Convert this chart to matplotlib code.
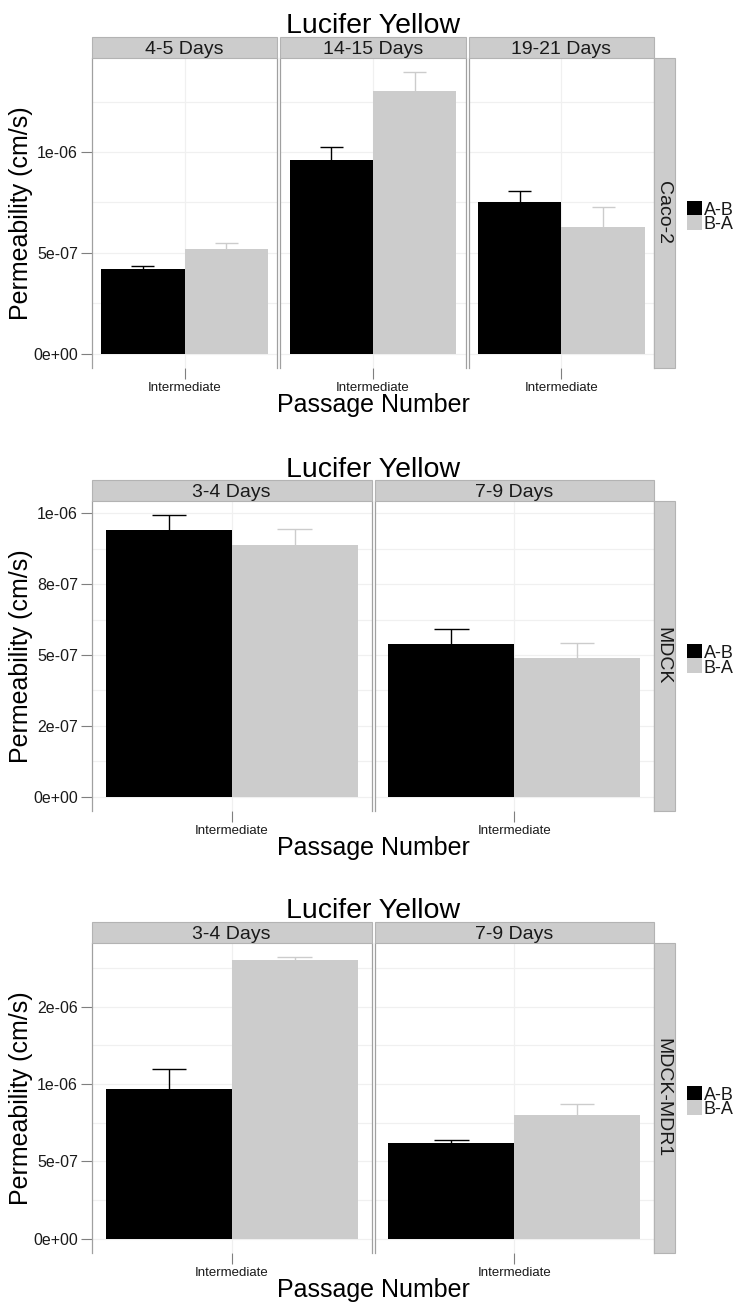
import matplotlib
matplotlib.use("Agg")
import matplotlib.pyplot as plt
from matplotlib.patches import Rectangle

plt.rcParams['font.family'] = ['Liberation Sans', 'DejaVu Sans']

W, H, DPI = 734, 1304, 100

# ---- data -------------------------------------------------------------
title = "Lucifer Yellow"
x_title = "Passage Number"
y_title = "Permeability (cm/s)"
x_category = "Intermediate"
series = ["A-B", "B-A"]
series_colors = ["#000000", "#cccccc"]

caco2_days = ["4-5 Days", "14-15 Days", "19-21 Days"]
caco2_ab = [4.21e-7, 9.60e-7, 7.51e-7]
caco2_ab_err = [0.16e-7, 0.65e-7, 0.57e-7]
caco2_ba = [5.20e-7, 1.304e-6, 6.30e-7]
caco2_ba_err = [0.31e-7, 0.93e-7, 0.96e-7]
caco2_ticks = [0, 5e-7, 1e-6]
caco2_ticklabels = ["0e+00", "5e-07", "1e-06"]

mdck_days = ["3-4 Days", "7-9 Days"]
mdck_ab = [9.41e-7, 5.40e-7]
mdck_ab_err = [0.51e-7, 0.52e-7]
mdck_ba = [8.89e-7, 4.91e-7]
mdck_ba_err = [0.54e-7, 0.53e-7]
mdck_ticks = [0, 2.5e-7, 5e-7, 7.5e-7, 1e-6]
mdck_ticklabels = ["0e+00", "2e-07", "5e-07", "8e-07", "1e-06"]

mdr1_days = ["3-4 Days", "7-9 Days"]
mdr1_ab = [9.70e-7, 6.21e-7]
mdr1_ab_err = [1.29e-7, 0.16e-7]
mdr1_ba = [1.80e-6, 8.02e-7]
mdr1_ba_err = [0.02e-6, 0.69e-7]
mdr1_ticks = [0, 5e-7, 1e-6, 1.5e-6]
mdr1_ticklabels = ["0e+00", "5e-07", "1e-06", "2e-06"]

sections = [
    dict(cell="Caco-2", days=caco2_days, ab=caco2_ab, ab_err=caco2_ab_err,
         ba=caco2_ba, ba_err=caco2_ba_err, ticks=caco2_ticks,
         ticklabels=caco2_ticklabels, strip_top=36.7),
    dict(cell="MDCK", days=mdck_days, ab=mdck_ab, ab_err=mdck_ab_err,
         ba=mdck_ba, ba_err=mdck_ba_err, ticks=mdck_ticks,
         ticklabels=mdck_ticklabels, strip_top=480.0),
    dict(cell="MDCK-MDR1", days=mdr1_days, ab=mdr1_ab, ab_err=mdr1_ab_err,
         ba=mdr1_ba, ba_err=mdr1_ba_err, ticks=mdr1_ticks,
         ticklabels=mdr1_ticklabels, strip_top=921.7),
]

# ---- layout helpers (pixel units, origin top-left) ---------------------
def rect(x0, y0, x1, y1):
    return [x0 / W, 1 - y1 / H, (x1 - x0) / W, (y1 - y0) / H]

def fx(x):
    return x / W

def fy(y):
    return 1 - y / H

fig = plt.figure(figsize=(W / DPI, H / DPI), dpi=DPI)
fig.patch.set_facecolor("white")

LEFT, RIGHT, GAP = 92.0, 654.0, 3.0
STRIP_H, PANEL_H = 21.3, 309.7
RSTRIP_W = 21.0
STRIP_FILL, STRIP_EDGE = "#cccccc", "#b3b3b3"
BORDER = "#a0a0a0"
GRID = "#f0f0f0"
BAR_W = 0.45

for sec in sections:
    n = len(sec["days"])
    st = sec["strip_top"]
    pt = st + STRIP_H
    pb = pt + PANEL_H
    pw = (RIGHT - LEFT - GAP * (n - 1)) / n

    vals_top = [v + e for v, e in zip(sec["ab"] + sec["ba"], sec["ab_err"] + sec["ba_err"])]
    ymax = max(vals_top)
    ylim = (-0.05 * ymax, ymax * 1.05)
    minor = [(a + b) / 2 for a, b in zip(sec["ticks"][:-1], sec["ticks"][1:])]
    step = sec["ticks"][1] - sec["ticks"][0]
    if sec["ticks"][-1] + step / 2 < ylim[1]:
        minor.append(sec["ticks"][-1] + step / 2)

    for i, day in enumerate(sec["days"]):
        x0 = LEFT + i * (pw + GAP)
        x1 = x0 + pw
        ax = fig.add_axes(rect(x0, pt, x1, pb))
        ax.set_xlim(0.5, 1.5)
        ax.set_ylim(*ylim)
        ax.set_facecolor("white")

        # grid
        ax.set_yticks(sec["ticks"])
        ax.set_yticks(minor, minor=True)
        ax.set_xticks([1])
        ax.grid(True, which="both", axis="y", color=GRID, lw=0.9, zorder=0)
        ax.grid(True, which="major", axis="x", color=GRID, lw=0.9, zorder=0)
        ax.set_axisbelow(True)

        # bars and error whiskers
        xs = [1 - BAR_W / 2, 1 + BAR_W / 2]
        means = [sec["ab"][i], sec["ba"][i]]
        errs = [sec["ab_err"][i], sec["ba_err"][i]]
        for x, m, e, c in zip(xs, means, errs, series_colors):
            ax.vlines(x, m - e, m + e, color=c, lw=1.0, zorder=2)
            ax.hlines([m - e, m + e], x - 0.062, x + 0.062, color=c, lw=1.0, zorder=2)
            ax.bar(x, m, width=BAR_W, color=c, edgecolor="none", zorder=3)

        for s in ("top", "bottom"):
            ax.spines[s].set_visible(False)
        for s in ("left", "right"):
            ax.spines[s].set_color(BORDER)
            ax.spines[s].set_linewidth(0.9)

        ax.tick_params(axis="x", length=8.0, width=0.8, color="#7f7f7f",
                       labelsize=9.5, pad=2.0, labelcolor="#1a1a1a")
        ax.set_xticklabels([x_category])
        ax.tick_params(axis="y", which="minor", length=0)
        if i == 0:
            ax.tick_params(axis="y", length=8.0, width=0.8, color="#7f7f7f",
                           labelsize=11.5, pad=2.2, labelcolor="#1a1a1a")
            ax.set_yticklabels(sec["ticklabels"])
        else:
            ax.tick_params(axis="y", length=0, labelleft=False)

        # top strip
        fig.add_artist(Rectangle((fx(x0), fy(pt)), (x1 - x0) / W, STRIP_H / H,
                                 transform=fig.transFigure, facecolor=STRIP_FILL,
                                 edgecolor=STRIP_EDGE, lw=0.8))
        fig.text(fx((x0 + x1) / 2), fy(pt - 4.0), day, ha="center", va="baseline",
                 fontsize=14, color="#1a1a1a")

    # right strip with cell line name
    fig.add_artist(Rectangle((fx(RIGHT), fy(pb)), RSTRIP_W / W, PANEL_H / H,
                             transform=fig.transFigure, facecolor=STRIP_FILL,
                             edgecolor=STRIP_EDGE, lw=0.8))
    fig.text(fx(RIGHT + RSTRIP_W / 2 - 1.5), fy((pt + pb) / 2), sec["cell"],
             rotation=270, ha="center", va="center", fontsize=14, color="#1a1a1a")

    # titles
    fig.text(fx((LEFT + RIGHT) / 2), fy(st - 3.4), title, ha="center",
             va="baseline", fontsize=20.5)
    fig.text(fx((LEFT + RIGHT) / 2), fy(pb + 44.5), x_title, ha="center",
             va="baseline", fontsize=18)
    fig.text(fx(21), fy((pt + pb) / 2), y_title, rotation=90, ha="center",
             va="center", fontsize=18)

    # legend
    lc = (pt + pb) / 2 + 2.3
    key = 14.6
    for k, (lab, c) in enumerate(zip(series, series_colors)):
        top = lc - key + k * key
        fig.add_artist(Rectangle((fx(687), fy(top + key)), 15 / W, key / H,
                                 transform=fig.transFigure, facecolor=c,
                                 edgecolor="none"))
        fig.text(fx(703.5), fy(top + key - 0.3), lab, ha="left", va="baseline",
                 fontsize=13, color="#1a1a1a")

fig.savefig("out.png", dpi=DPI, facecolor="white")
